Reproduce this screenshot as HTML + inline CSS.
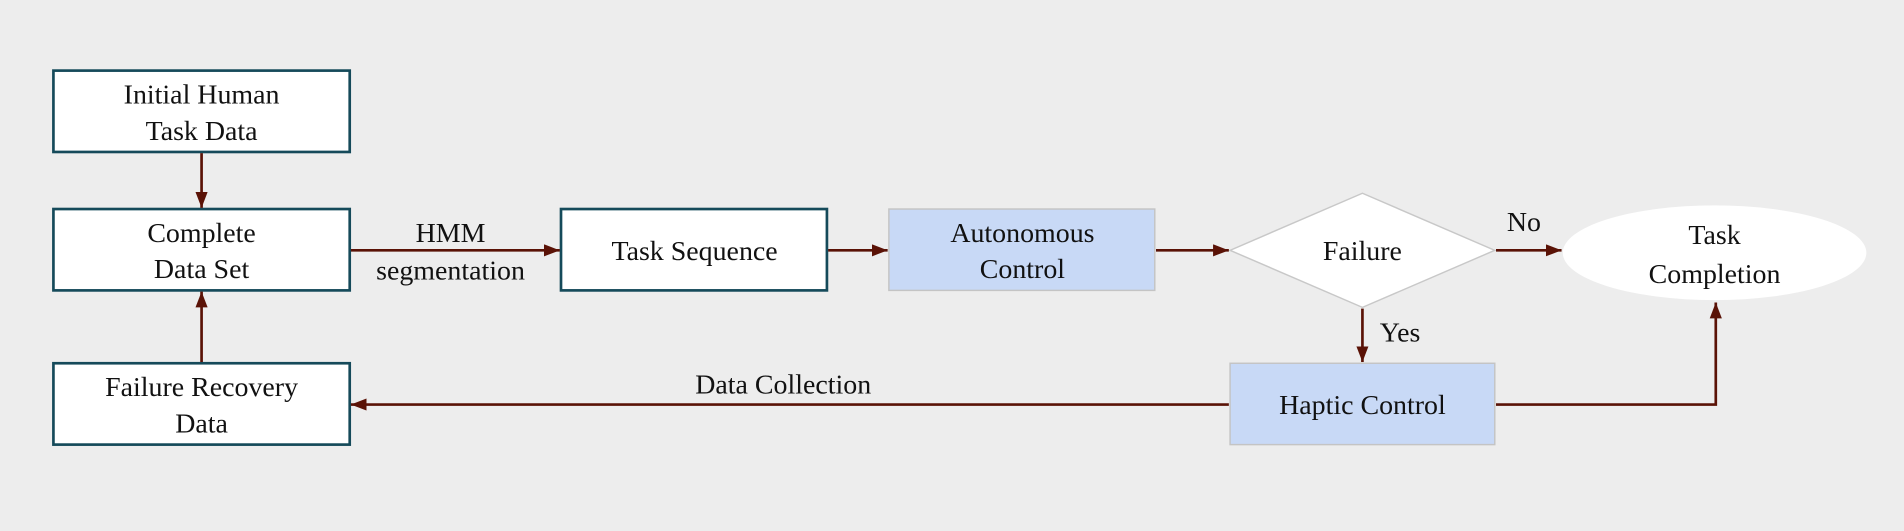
<!DOCTYPE html>
<html><head><meta charset="utf-8"><style>
html,body{margin:0;padding:0;background:#ededed;}
svg{display:block;}
text{font-family:"Liberation Serif",serif;font-size:23px;fill:#111;text-anchor:middle;}
</style></head><body>
<svg width="1904" height="531" viewBox="0 0 1568 437" xmlns="http://www.w3.org/2000/svg">
<defs>
<marker id="a" markerWidth="13" markerHeight="10" refX="13" refY="5" orient="auto" markerUnits="userSpaceOnUse">
<path d="M0,0 L13,5 L0,10 Z" fill="#5a1206"/>
</marker>
</defs>
<rect width="1568" height="437" fill="#ededed"/>
<g fill="#fff" stroke="#154a5a" stroke-width="2.2">
<rect x="44" y="58" width="244" height="67"/>
<rect x="44" y="172" width="244" height="67"/>
<rect x="44" y="299" width="244" height="67"/>
<rect x="462" y="172" width="219" height="67"/>
</g>
<g fill="#c8d9f6" stroke="#c4c4c4" stroke-width="1.2">
<rect x="732" y="172" width="219" height="67"/>
<rect x="1013" y="299" width="218" height="67"/>
</g>
<polygon points="1122,159 1231,206 1122,253 1013,206" fill="#fff" stroke="#c8c8c8" stroke-width="1.2"/>
<ellipse cx="1412" cy="208" rx="125" ry="39" fill="#fff"/>
<g stroke="#5a1206" stroke-width="2.2" fill="none" marker-end="url(#a)">
<line x1="166" y1="126" x2="166" y2="171"/>
<line x1="166" y1="298" x2="166" y2="240"/>
<line x1="289" y1="206" x2="461" y2="206"/>
<line x1="682" y1="206" x2="731" y2="206"/>
<line x1="952" y1="206" x2="1012" y2="206"/>
<line x1="1232" y1="206" x2="1286" y2="206"/>
<line x1="1122" y1="254" x2="1122" y2="298"/>
<line x1="1012" y1="333" x2="289" y2="333"/>
<polyline points="1232,333 1413,333 1413,249"/>
</g>
<text x="166" y="85">Initial Human</text>
<text x="166" y="115">Task Data</text>
<text x="166" y="199">Complete</text>
<text x="166" y="229">Data Set</text>
<text x="166" y="326">Failure Recovery</text>
<text x="166" y="356">Data</text>
<text x="371" y="199">HMM</text>
<text x="371" y="230">segmentation</text>
<text x="572" y="214">Task Sequence</text>
<text x="842" y="199">Autonomous</text>
<text x="842" y="229">Control</text>
<text x="1122" y="214">Failure</text>
<text x="1255" y="190">No</text>
<text x="1153" y="281">Yes</text>
<text x="1122" y="341">Haptic Control</text>
<text x="645" y="324">Data Collection</text>
<text x="1412" y="201">Task</text>
<text x="1412" y="233">Completion</text>
</svg>
</body></html>
